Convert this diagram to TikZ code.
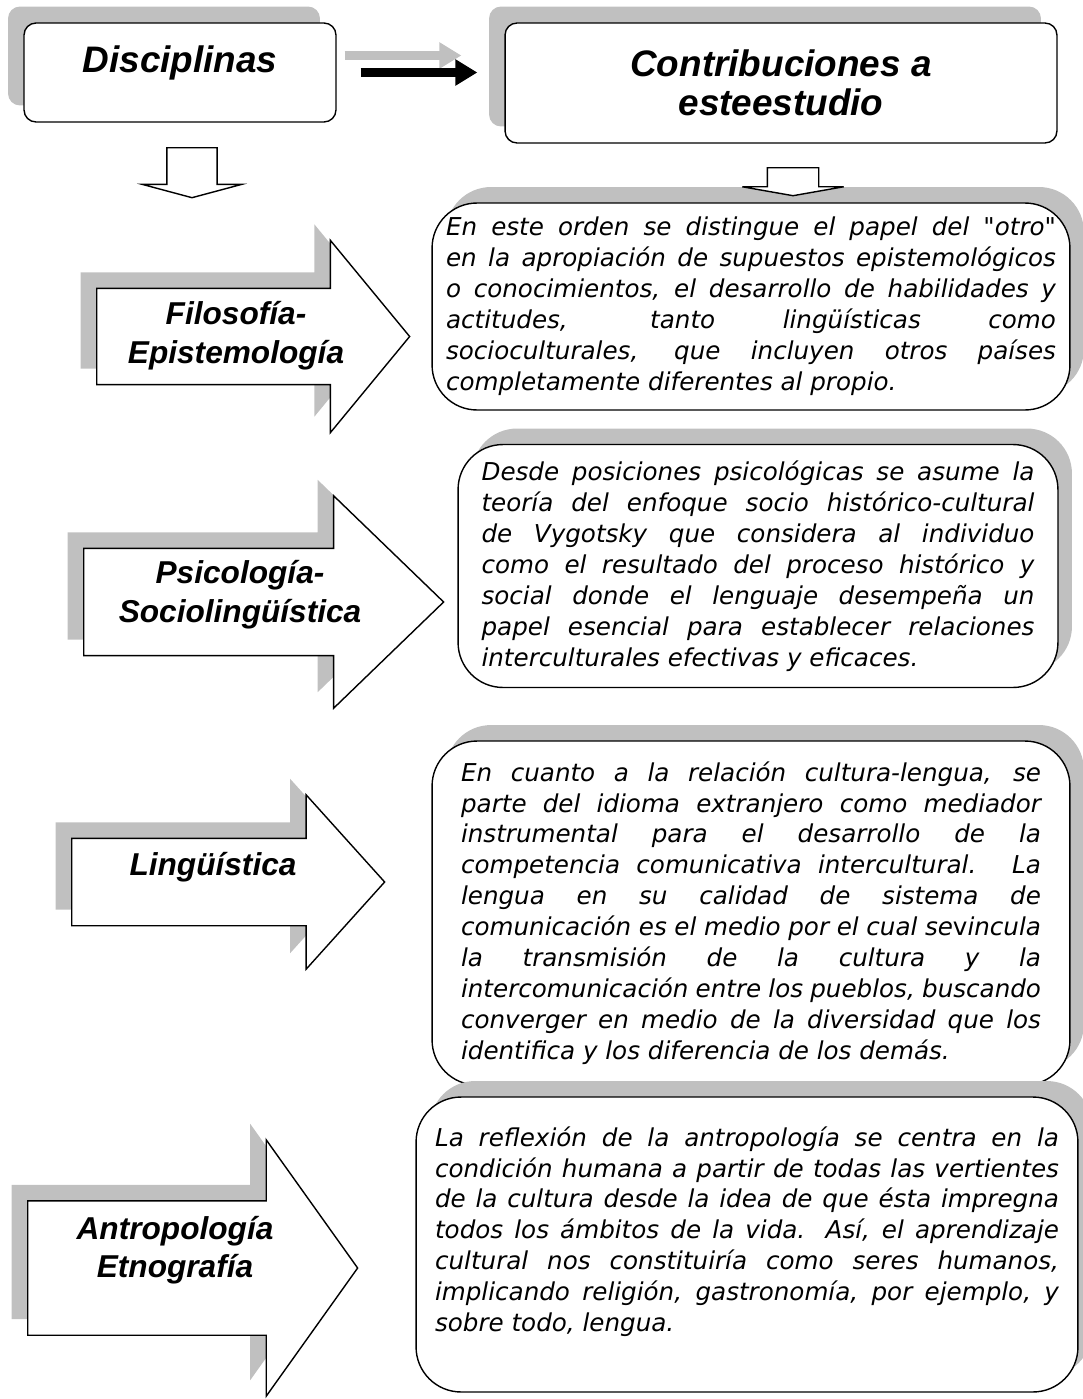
\documentclass[tikz,border=0pt]{standalone}
\usepackage{fontspec}
\usepackage{tikz}
\usetikzlibrary{shapes.arrows, arrows.meta, shadows, calc}
\newfontfamily\arialfont{Liberation Sans}
\newfontfamily\verdfont{DejaVu Sans}
\definecolor{shadowgray}{RGB}{192,192,192}
\tolerance=10000
\hbadness=10000
\hyphenpenalty=10000

\begin{document}
\begin{tikzpicture}[x=0.02cm, y=-0.02cm,
    titlebox/.style={draw, rounded corners=0.24cm, fill=white, line width=0.8pt, align=center,
        font=\arialfont\bfseries\itshape\fontsize{21}{22.5}\selectfont,
        drop shadow={shadow xshift=-0.32cm, shadow yshift=0.33cm, fill=shadowgray, opacity=1}},
    contbox/.style={draw, rounded corners=0.9cm, fill=white, line width=0.8pt, align=justify,
        font=\verdfont\itshape\fontsize{14}{17.6}\selectfont,
        drop shadow={shadow xshift=0.28cm, shadow yshift=0.32cm, fill=shadowgray, opacity=1}},
    discarrow/.style={single arrow, draw, fill=white, line width=0.8pt, anchor=tail,
        single arrow head indent=0pt, inner xsep=0pt,
        drop shadow={shadow xshift=-0.32cm, shadow yshift=0.32cm, fill=shadowgray, opacity=1}},
    downarrow/.style={single arrow, draw, fill=white, line width=0.8pt, anchor=tail,
        inner ysep=0pt, shape border rotate=270},
    disclabel/.style={align=center, font=\arialfont\bfseries\itshape\fontsize{18}{22}\selectfont},
    linkarrow/.style={-{Triangle[length=0.44cm, width=0.5cm]}, line width=0.18cm}
  ]
    \useasboundingbox (0,0) rectangle (1082,1399);

    % Titres
    \node[titlebox, minimum width=6.24cm, minimum height=1.98cm, text height=0.5cm, text depth=0.5cm] (disc) at (180,72.5) {Disciplinas};
    \node[titlebox, minimum width=11.04cm, minimum height=2.4cm] (contrib) at (781,83) {Contribuciones a\\esteestudio};

    % Flèche entre les titres (ombre grise puis noire)
    \draw[linkarrow, shadowgray, shorten <=0.48cm, shorten >=0.54cm, transform canvas={xshift=-0.32cm, yshift=0.34cm}] (disc.east) -- (disc.east -| contrib.west);
    \draw[linkarrow, shorten <=0.48cm, shorten >=0.54cm] (disc.east) -- (disc.east -| contrib.west);

    % === Filosofía ===
    \node[discarrow, inner ysep=0.95cm, minimum height=6.26cm, single arrow head extend=0.96cm, single arrow tip angle=101] (arrFil) at (96,336.5) {};
    \node[disclabel] (lblFil) at (236,336) {Filosofía-\\Epistemología};
    \node[contbox, minimum width=12.76cm, minimum height=4.14cm, text width=12.2cm] (boxFil) at (751,306.5) {%
        En este orden se distingue el papel del "otro"\linebreak
        en la apropiación de supuestos epistemológicos\linebreak
        o conocimientos, el desarrollo de habilidades y\linebreak
        actitudes, tanto lingüísticas como\linebreak
        socioculturales, que incluyen otros países\linebreak
        completamente diferentes al propio.};

    % Flèches creuses vers le bas
    \node[downarrow, inner xsep=0.49cm, minimum height=1.0cm, single arrow head extend=0.49cm, single arrow tip angle=150] (down1) at (192,147) {};
    \node[downarrow, inner xsep=0.5cm, minimum height=0.56cm, single arrow head extend=0.5cm, single arrow tip angle=160] (down2) at (793,167) {};

    % === Psicología ===
    \node[discarrow, inner ysep=1.06cm, minimum height=7.2cm, single arrow head extend=1.05cm, single arrow tip angle=88] (arrPsi) at (83,602) {};
    \node[disclabel] (lblPsi) at (240,595) {Psicología-\\Sociolingüística};
    \node[contbox, minimum width=12cm, minimum height=4.86cm, text width=11.06cm] (boxPsi) at (758,566) {%
        Desde posiciones psicológicas se asume la\linebreak
        teoría del enfoque socio histórico-cultural\linebreak
        de Vygotsky que considera al individuo\linebreak
        como el resultado del proceso histórico y\linebreak
        social donde el lenguaje desempeña un\linebreak
        papel esencial para establecer relaciones\linebreak
        interculturales efectivas y eficaces.};

    % === Lingüística ===
    \node[discarrow, inner ysep=0.86cm, minimum height=6.26cm, single arrow head extend=0.87cm, single arrow tip angle=96] (arrLin) at (71,882) {};
    \node[disclabel] (lblLin) at (213,867) {Lingüística};
    \node[contbox, minimum width=12.76cm, minimum height=6.88cm, text width=11.6cm] (boxLin) at (751,913) {%
        En cuanto a la relación cultura-lengua, se\linebreak
        parte del idioma extranjero como mediador\linebreak
        instrumental para el desarrollo de la\linebreak
        competencia comunicativa intercultural. La\linebreak
        lengua en su calidad de sistema de\linebreak
        comunicación es el medio por el cual se{\upshape v}incula\linebreak
        la transmisión de la cultura y la\linebreak
        intercomunicación entre los pueblos, buscando\linebreak
        converger en medio de la diversidad que los\linebreak
        identifica y los diferencia de los demás.};

    % === Antropología ===
    \node[discarrow, inner ysep=1.33cm, minimum height=6.6cm, single arrow head extend=1.22cm, single arrow tip angle=109] (arrAnt) at (27,1268) {};
    \node[disclabel] (lblAnt) at (175,1250) {Antropología\\Etnografía};
    \node[contbox, minimum width=13.24cm, minimum height=5.9cm, text width=12.48cm] (boxAnt) at (747,1244.5) {%
        La reflexión de la antropología se centra en la\linebreak
        condición humana a partir de todas las vertientes\linebreak
        de la cultura desde la idea de que ésta impregna\linebreak
        todos los ámbitos de la vida. Así, el aprendizaje\linebreak
        cultural nos constituiría como seres humanos,\linebreak
        implicando religión, gastronomía, por ejemplo, y\linebreak
        sobre todo, lengua.\par\mbox{}};
\end{tikzpicture}
\end{document}
